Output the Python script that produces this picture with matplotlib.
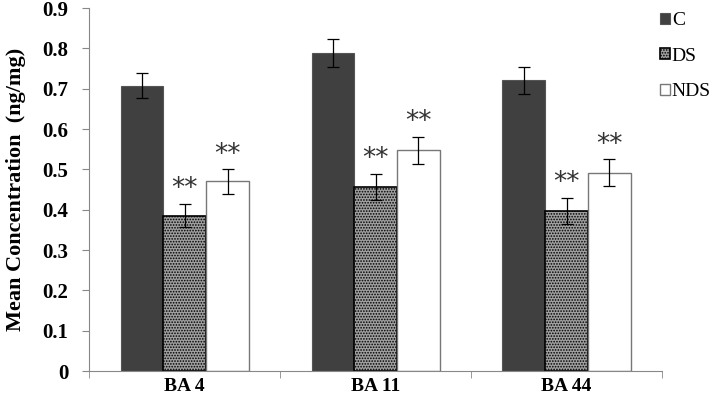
import numpy as np
import matplotlib.pyplot as plt

plt.rcParams['font.family'] = ['Liberation Serif', 'DejaVu Serif']
plt.rcParams['hatch.color'] = '#555555'
plt.rcParams['hatch.linewidth'] = 0.8

regions = ['BA 4', 'BA 11', 'BA 44']
c_vals = [0.707, 0.789, 0.721]
c_err = [0.031, 0.035, 0.033]
ds_vals = [0.385, 0.456, 0.397]
ds_err = [0.029, 0.033, 0.033]
nds_vals = [0.470, 0.547, 0.492]
nds_err = [0.030, 0.033, 0.033]

fig = plt.figure(figsize=(7.16, 4.03), dpi=100)
ax = fig.add_axes([0.1247, 0.0794, 0.8, 0.9007])

x = np.arange(len(regions))
w = 0.224
ekw = dict(ecolor='black', elinewidth=0.9, capsize=4, capthick=0.9)
ax.bar(x - w, c_vals, w, yerr=c_err, color='#404040', edgecolor='#555555',
       linewidth=0.8, label='C', error_kw=ekw)
ax.bar(x, ds_vals, w, yerr=ds_err, color='#a0a0a0', edgecolor='black',
       hatch='......', linewidth=1.2, label='DS', error_kw=ekw)
ax.bar(x + w, nds_vals, w, yerr=nds_err, color='white', edgecolor='#777777',
       linewidth=1.0, label='NDS', error_kw=ekw)

# significance markers
for xs, vals, errs in [(x, ds_vals, ds_err), (x + w, nds_vals, nds_err)]:
    for xi, v, e in zip(xs, vals, errs):
        ax.text(xi, v + e + 0.004, '**', ha='center', va='bottom',
                fontsize=19, color='#333333', family='DejaVu Sans')

ax.set_xlim(-0.5, 2.5)
ax.set_ylim(0, 0.9)
ax.set_yticks(np.arange(0, 0.91, 0.1))
ax.set_yticklabels(['0'] + ['%.1f' % v for v in np.arange(0.1, 0.91, 0.1)],
                   fontsize=15, fontweight='bold')
ax.set_xticks(x)
ax.set_xticklabels(regions, fontsize=14, fontweight='bold')
ax.tick_params(axis='x', length=0, pad=5)
ax.set_xticks([-0.5, 0.5, 1.5, 2.5], minor=True)
ax.tick_params(axis='x', which='minor', length=5, color='#888888', direction='out')
ax.tick_params(axis='y', length=5, color='#888888', direction='out', pad=10)
ax.set_ylabel('Mean Concentration  (ng/mg)', fontsize=16, fontweight='bold', labelpad=12)

for s in ['top', 'right']:
    ax.spines[s].set_visible(False)
for s in ['left', 'bottom']:
    ax.spines[s].set_color('#888888')

leg = fig.legend(loc='upper left', bbox_to_anchor=(0.922, 0.97), frameon=False,
                 fontsize=14, handlelength=0.5, handleheight=0.5,
                 handletextpad=0.1, labelspacing=0.95, borderpad=0,
                 borderaxespad=0)

fig.savefig('out.png', dpi=100)
